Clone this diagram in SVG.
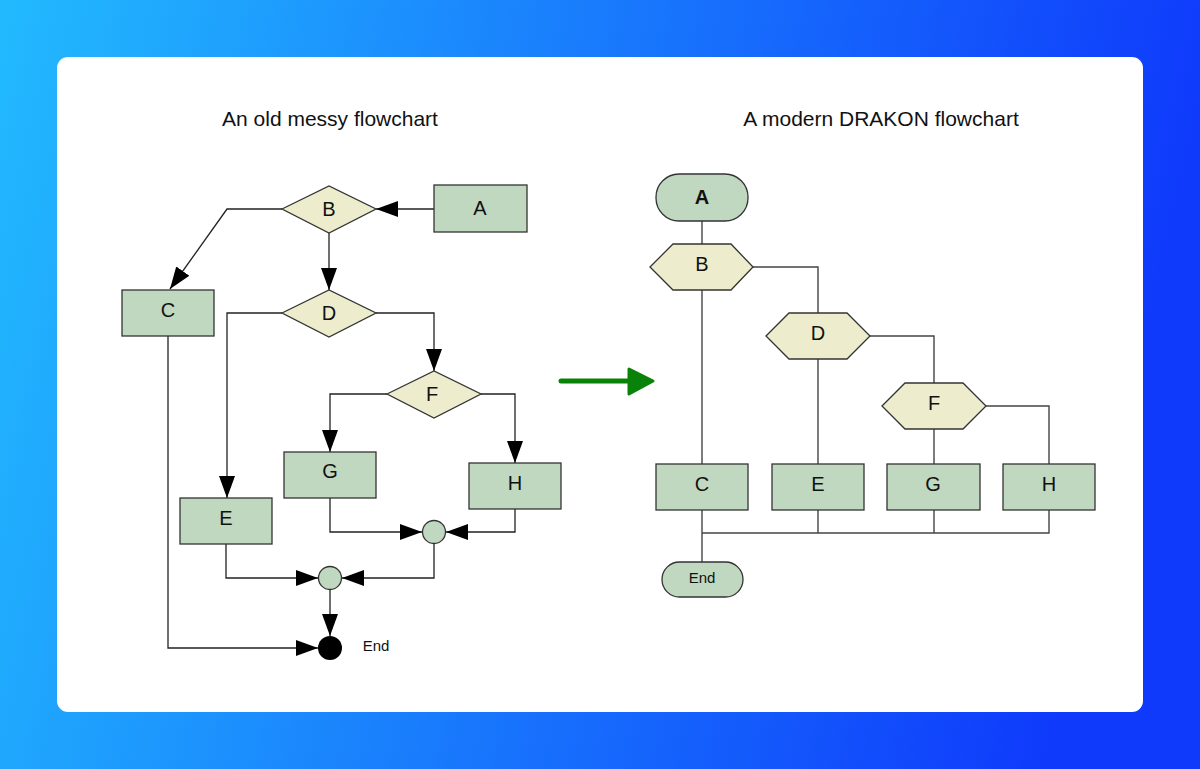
<svg xmlns="http://www.w3.org/2000/svg" width="1200" height="769" viewBox="0 0 1200 769">
<defs>
<linearGradient id="bg" x1="0" y1="0" x2="1" y2="0.15">
<stop offset="0" stop-color="#22bafe"/>
<stop offset="1" stop-color="#0f3afb"/>
</linearGradient>
<marker id="ah" markerUnits="userSpaceOnUse" markerWidth="24" markerHeight="16" refX="22" refY="8" orient="auto" viewBox="0 0 24 16">
<path d="M0,0 L22,8 L0,16 z" fill="#000"/>
</marker>
<style>
.t{font-family:"Liberation Sans",Arial,sans-serif;fill:#111;text-anchor:middle}
.title{font-size:21px}
.lbl{font-size:20px}
.act{fill:#c0d8c0;stroke:#333;stroke-width:1.3}
.q{fill:#ededcd;stroke:#333;stroke-width:1.3}
.ln{fill:none;stroke:#222;stroke-width:1.3}
.lnA{fill:none;stroke:#222;stroke-width:1.3;marker-end:url(#ah)}
.rl{fill:none;stroke:#444;stroke-width:1.4}
</style>
</defs>
<rect x="0" y="0" width="1200" height="769" fill="url(#bg)"/>
<rect x="57" y="57" width="1086" height="655" rx="11" fill="#fff"/>

<text class="t title" x="330" y="126">An old messy flowchart</text>
<text class="t title" x="881" y="126">A modern DRAKON flowchart</text>

<!-- left connectors -->
<g id="left-connectors">
<path class="lnA" d="M434,209 L376,209"/>
<path class="lnA" d="M282,209 L227,209 L170,289"/>
<path class="lnA" d="M329,233 L329,290"/>
<path class="lnA" d="M282,313 L227,313 L227,498"/>
<path class="lnA" d="M376,313 L434,313 L434,371"/>
<path class="lnA" d="M387,394 L330,394 L330,452"/>
<path class="lnA" d="M481,394 L515,394 L515,463"/>
<path class="lnA" d="M330,498 L330,532 L422,532"/>
<path class="lnA" d="M515,509 L515,532 L446,532"/>
<path class="lnA" d="M226,544 L226,578 L318,578"/>
<path class="lnA" d="M434,544 L434,578 L342,578"/>
<path class="lnA" d="M330,590 L330,636"/>
<path class="lnA" d="M168,336 L168,648 L318,648"/>
</g>

<g id="L-A"><rect class="act" x="434" y="185" width="93" height="47"/><text class="t lbl" x="480" y="215">A</text></g>
<g id="L-B"><polygon class="q" points="282,209 329,186 376,209 329,233"/><text class="t lbl" x="329" y="216">B</text></g>
<g id="L-C"><rect class="act" x="122" y="290" width="92" height="46"/><text class="t lbl" x="168" y="317">C</text></g>
<g id="L-D"><polygon class="q" points="282,313 329,290 376,313 329,337"/><text class="t lbl" x="329" y="320">D</text></g>
<g id="L-F"><polygon class="q" points="387,394 434,371 481,394 434,418"/><text class="t lbl" x="432" y="401">F</text></g>
<g id="L-G"><rect class="act" x="284" y="452" width="92" height="46"/><text class="t lbl" x="330" y="478">G</text></g>
<g id="L-H"><rect class="act" x="469" y="463" width="92" height="46"/><text class="t lbl" x="515" y="490">H</text></g>
<g id="L-E"><rect class="act" x="180" y="498" width="92" height="46"/><text class="t lbl" x="226" y="525">E</text></g>
<g id="L-J1"><circle class="act" cx="434" cy="532" r="11.5"/></g>
<g id="L-J2"><circle class="act" cx="330" cy="578" r="11.5"/></g>
<g id="L-End"><circle cx="330" cy="648" r="12" fill="#000"/><text class="t" x="376" y="651" style="font-size:15px">End</text></g>

<!-- green transform arrow -->
<g id="transform-arrow">
<line x1="561" y1="381" x2="632" y2="381" stroke="#088208" stroke-width="5" stroke-linecap="round"/>
<path d="M629,369 L653,381 L629,394 z" fill="#088208" stroke="#088208" stroke-width="3" stroke-linejoin="round"/>
</g>

<!-- right connectors -->
<g id="right-connectors">
<path class="rl" d="M702,221 L702,244"/>
<path class="rl" d="M753,267 L818,267 L818,313"/>
<path class="rl" d="M702,290 L702,464"/>
<path class="rl" d="M870,336 L934,336 L934,383"/>
<path class="rl" d="M818,359 L818,464"/>
<path class="rl" d="M986,406 L1049,406 L1049,464"/>
<path class="rl" d="M934,429 L934,464"/>
<path class="rl" d="M702,510 L702,562"/>
<path class="rl" d="M818,510 L818,533"/>
<path class="rl" d="M934,510 L934,533"/>
<path class="rl" d="M1049,510 L1049,533 L702,533"/>
</g>

<g id="R-A"><rect class="act" x="656" y="174" width="92" height="47" rx="23"/><text class="t lbl" x="702" y="204" font-weight="bold">A</text></g>
<g id="R-B"><polygon class="q" points="650,267 673,244 731,244 753,267 731,290 673,290"/><text class="t lbl" x="702" y="271">B</text></g>
<g id="R-D"><polygon class="q" points="766,336 789,313 847,313 870,336 847,359 789,359"/><text class="t lbl" x="818" y="340">D</text></g>
<g id="R-F"><polygon class="q" points="882,406 905,383 963,383 986,406 963,429 905,429"/><text class="t lbl" x="934" y="410">F</text></g>
<g id="R-C"><rect class="act" x="656" y="464" width="92" height="46"/><text class="t lbl" x="702" y="491">C</text></g>
<g id="R-E"><rect class="act" x="772" y="464" width="92" height="46"/><text class="t lbl" x="818" y="491">E</text></g>
<g id="R-G"><rect class="act" x="887" y="464" width="93" height="46"/><text class="t lbl" x="933" y="491">G</text></g>
<g id="R-H"><rect class="act" x="1003" y="464" width="92" height="46"/><text class="t lbl" x="1049" y="491">H</text></g>
<g id="R-End"><rect class="act" x="662" y="562" width="81" height="35" rx="17.5"/><text class="t" x="702" y="583" style="font-size:15px">End</text></g>
</svg>
